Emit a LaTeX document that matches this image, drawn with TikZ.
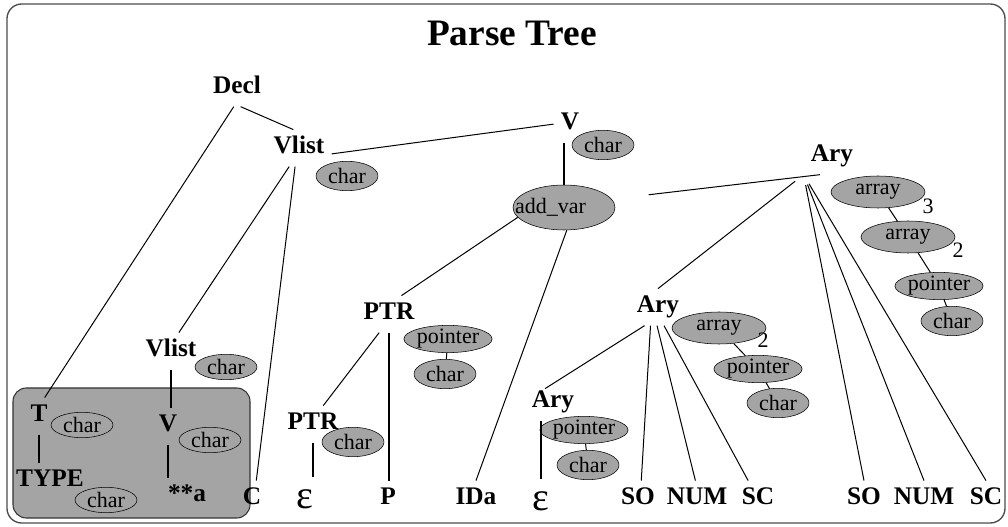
\documentclass[tikz,border=0pt]{standalone}
\usepackage{fontspec}
\setmainfont{Liberation Serif}
\usetikzlibrary{shapes.geometric}
\definecolor{treegray}{RGB}{164,164,164}

\begin{document}
\begin{tikzpicture}[x=0.75pt,y=-0.75pt,
  sym/.style={font=\fontsize{19}{21}\selectfont\bfseries, text height=12.8pt, text depth=4pt,
    inner sep=1pt, outer sep=4.5pt, anchor=base},
  eps/.style={sym, font=\fontsize{30}{32}\selectfont},
  attr/.style={ellipse, draw, fill=treegray, inner sep=0pt, font=\fontsize{16.5}{18}\selectfont,
    minimum width=46.5pt, minimum height=22pt},
  ptrattr/.style={attr, minimum width=60.75pt, minimum height=19.5pt},
  arrattr/.style={attr, minimum width=70.5pt, minimum height=24pt},
  boxattr/.style={attr, minimum height=19pt},
  dim/.style={font=\fontsize{16.5}{18}\selectfont, inner sep=0pt},
  branch/.style={line width=0.75pt},
  stem/.style={line width=1.5pt}]
  \useasboundingbox (0,0) rectangle (1008,527);
  \draw[black!70, line width=1pt, rounded corners=11pt] (7,4) rectangle (1005,523);
  \draw[fill=treegray, draw=black!80, line width=0.8pt, rounded corners=10pt] (13,388) rectangle (250,518);

  \node[font=\fontsize{28}{30}\selectfont\bfseries, anchor=base] (title) at (512,46) {Parse Tree};

  \node[sym] (decl) at (237,94) {Decl};
  \node[sym] (vlistA) at (299,154) {Vlist};
  \node[sym] (vA) at (570,130) {V};
  \node[sym] (aryA) at (832,162) {Ary};
  \node[sym] (ptrA) at (389,320) {PTR};
  \node[sym] (aryB) at (658,313) {Ary};
  \node[sym] (vlistB) at (171,357) {Vlist};
  \node[sym] (aryC) at (553,408) {Ary};
  \node[sym] (ptrB) at (313,430) {PTR};
  \node[sym] (tT) at (39,422) {T};
  \node[sym] (vB) at (168,432) {V};
  \node[sym] (typeT) at (50,487) {TYPE};
  \node[sym] (stara) at (187,502) {**a};
  \node[sym] (cC) at (252,505) {C};
  \node[eps] (epsB) at (305,509) {ε};
  \node[sym] (pP) at (388,505) {P};
  \node[sym] (idA) at (476,505) {IDa};
  \node[eps] (epsC) at (541,511) {ε};
  \foreach \n/\x/\t in {soB/638/SO, numB/697/NUM, scB/758/SC, soA/864/SO, numA/924/NUM, scA/986/SC}
    \node[sym] (\n) at (\x,505) {\t};

  \node[attr] (charVlistA) at (347,176) {char};
  \node[attr] (charVA) at (603,145) {char};
  \node[attr, minimum width=76.5pt, minimum height=33.75pt,
    label={[dim, anchor=west, xshift=1.5pt]west:add\_var}] (addvar) at (564,207.5) {};
  \node[arrattr] (arrR1) at (878,192) {array};
  \node[arrattr] (arrR2) at (908,237) {array};
  \node[ptrattr] (ptrR) at (939,286) {pointer};
  \node[attr] (charR) at (952,321) {char};
  \node[arrattr] (arrM) at (719,328) {array};
  \node[ptrattr] (ptrM) at (758,369) {pointer};
  \node[attr] (charM) at (778,403) {char};
  \node[ptrattr] (ptrP) at (448,339) {pointer};
  \node[attr] (charP) at (445,374) {char};
  \node[attr] (charPB) at (353,442) {char};
  \node[ptrattr] (ptrC) at (584,430) {pointer};
  \node[attr] (charC) at (588,465) {char};
  \node[boxattr] (charVlistB) at (226,367) {char};
  \node[boxattr] (charT) at (82,425) {char};
  \node[boxattr] (charVB) at (210,440) {char};
  \node[boxattr] (charTY) at (106,500) {char};
  \node[dim] (dimR1) at (928,206) {3};
  \node[dim] (dimR2) at (958,250) {2};
  \node[dim] (dimM) at (763,340) {2};

  \draw[branch] (decl.-79) -- (vlistA.107);
  \draw[branch] (decl.-100) -- (tT.73);
  \draw[branch] (vlistA.-10) -- (vA.west);
  \draw[branch] (vlistA.-118) -- (vlistB.67);
  \draw[branch] (vlistA.-102) -- (cC.77);
  \draw[stem] (vA.south -| addvar.north) -- (addvar.north);
  \draw[branch] (addvar.-168) -- (ptrA.56);
  \draw[branch] (addvar.-83) -- (idA.north);
  \draw[branch, shorten <=28pt] (addvar.10) -- (aryA.-123);
  \foreach \c in {aryB, soA, numA, scA}
    \draw[branch, shorten <=8pt] (aryA.south west) -- (\c.north);
  \draw[branch, shorten >=-7pt] (aryB.-126) -- (aryC.north);
  \draw[branch] (aryB.-112) -- (soB.80);
  \draw[branch] (aryB.-93) -- (numB.95);
  \draw[branch] (aryB.-72) -- (scB.118);
  \draw[branch] (ptrA.-118) -- (ptrB.61);
  \draw[stem] (ptrA.south) -- (ptrA.south |- pP.north);
  \draw[stem, shorten >=6pt] (ptrB.south) -- (ptrB.south |- epsB.north);
  \draw[stem, shorten >=6pt] (epsC.north |- aryC.south) -- (epsC.north);
  \draw[stem] (vlistB.south) -- (vlistB.south |- vB.north);
  \draw[stem] (vB.south) -- (vB.south |- stara.north);
  \draw[stem] (tT.south) -- (tT.south |- typeT.north);
  \draw[branch] (arrR1) -- (arrR2);
  \draw[branch] (arrR2) -- (ptrR);
  \draw[branch] (ptrR) -- (charR);
  \draw[branch] (arrM) -- (ptrM);
  \draw[branch] (ptrM) -- (charM);
  \draw[branch] (ptrP) -- (charP);
  \draw[branch] (ptrC) -- (charC);
\end{tikzpicture}
\end{document}
